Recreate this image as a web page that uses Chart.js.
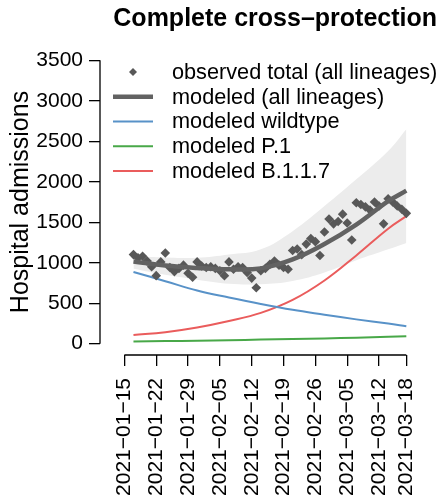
<!DOCTYPE html>
<html>
<head>
<meta charset="utf-8">
<title>Complete cross-protection</title>
<script src="https://cdn.jsdelivr.net/npm/chart.js@4.4.1/dist/chart.umd.min.js"></script>
<style>
  html, body { margin: 0; padding: 0; background: #fff; }
</style>
</head>
<body>
<canvas id="chart" width="444" height="502"></canvas>
<script>
// x is days since 2021-01-15
const tickDays = [0, 7, 14, 21, 28, 35, 42, 49, 56, 62];
const tickLabels = ["2021−01−15", "2021−01−22", "2021−01−29", "2021−02−05", "2021−02−12",
                    "2021−02−19", "2021−02−26", "2021−03−05", "2021−03−12", "2021−03−18"];
const yTicks = [0, 500, 1000, 1500, 2000, 2500, 3000, 3500];

// daily observed admissions, starting 2021-01-17
const observedStartDay = 2;
const observed = [
  1100, 1060, 1080, 1020, 950, 840, 1010, 1120, 940, 890,
  930, 970, 870, 820, 1010, 960, 940, 950, 930, 900,
  840, 1010, 920, 950, 940, 880, 810, 690, 900, 930,
  980, 1020, 970, 940, 920, 1150, 1170, 1100, 1230, 1300,
  1260, 1090, 1380, 1540, 1480, 1510, 1600, 1490, 1280, 1740,
  1720, 1690, 1650, 1750, 1700, 1480, 1790, 1750, 1700, 1660,
  1610
];

// model curves, read at roughly weekly points
const modelDays       = [2,    9,    16,   23,   30,   37,   44,   51,   58,   62];
const modeledTotal    = [1016, 965,  935,  918,  930,  1040, 1230, 1470, 1760, 1890];
const modeledWildtype = [886,  772,  656,  570,  490,  418,  358,  300,  248,  215];
const modeledP1       = [28,   32,   37,   43,   50,   57,   65,   74,   85,   93];
const modeledB117     = [106,  142,  200,  280,  380,  540,  780,  1090, 1420, 1575];
const bandUpper       = [1080, 1065, 1060, 1100, 1165, 1390, 1700, 2030, 2380, 2650];
const bandLower       = [925,  850,  790,  740,  735,  775,  880,  1030, 1165, 1245];

const toXY = (days, vals) => vals.map((v, i) => ({x: days[i], y: v}));

Chart.defaults.font.family = "'Liberation Sans', Arial, sans-serif";
Chart.defaults.color = "#000";

const modelLine = (label, vals, color, width, order) => ({
  label: label,
  data: toXY(modelDays, vals),
  borderColor: color,
  borderWidth: width,
  pointRadius: 0,
  tension: 0.4,
  fill: false,
  order: order
});

const datasets = [
  modelLine("modeled (all lineages)", modeledTotal, "rgb(98,98,98)", 4.5, 0),
  {
    label: "observed total (all lineages)",
    data: observed.map((v, i) => ({x: observedStartDay + i, y: v})),
    showLine: false,
    pointStyle: "rectRot",
    pointRadius: 4.8,
    pointBackgroundColor: "rgb(88,88,88)",
    pointBorderWidth: 0,
    order: 1
  },
  modelLine("modeled wildtype", modeledWildtype, "rgb(88,146,200)", 2, 2),
  modelLine("modeled P.1", modeledP1, "rgb(72,168,72)", 2, 3),
  modelLine("modeled B.1.1.7", modeledB117, "rgb(234,92,92)", 2, 4),
  {
    label: "band upper",
    data: toXY(modelDays, bandUpper),
    borderWidth: 0,
    pointRadius: 0,
    tension: 0.4,
    backgroundColor: "rgb(236,236,236)",
    fill: "+1",
    order: 5
  },
  {
    label: "band lower",
    data: toXY(modelDays, bandLower),
    borderWidth: 0,
    pointRadius: 0,
    tension: 0.4,
    fill: false,
    order: 6
  }
];

// R style axes: lines only run from first to last tick
const axisLines = {
  id: "axisLines",
  afterDraw(chart) {
    const {ctx, chartArea, scales: {x, y}} = chart;
    ctx.save();
    ctx.strokeStyle = "#000";
    ctx.lineWidth = 1.3;
    ctx.beginPath();
    ctx.moveTo(x.getPixelForValue(tickDays[0]), chartArea.bottom);
    ctx.lineTo(x.getPixelForValue(tickDays[tickDays.length - 1]), chartArea.bottom);
    ctx.moveTo(chartArea.left, y.getPixelForValue(yTicks[0]));
    ctx.lineTo(chartArea.left, y.getPixelForValue(yTicks[yTicks.length - 1]));
    ctx.stroke();
    ctx.restore();
  }
};

// legend inside the plot, top left, like R's legend("topleft")
const legendOrder = [1, 0, 2, 3, 4];
const insideLegend = {
  id: "insideLegend",
  afterDatasetsDraw(chart) {
    const {ctx, chartArea} = chart;
    const x0 = chartArea.left + 13;
    const symW = 40;
    ctx.save();
    ctx.font = "21.7px 'Liberation Sans', Arial, sans-serif";
    ctx.textBaseline = "middle";
    legendOrder.forEach((di, row) => {
      const ds = chart.data.datasets[di];
      const yc = chartArea.top + 23 + row * 24.75;
      if (ds.showLine === false) {
        const r = 4;
        const cx = x0 + symW / 2;
        ctx.fillStyle = ds.pointBackgroundColor;
        ctx.beginPath();
        ctx.moveTo(cx, yc - r);
        ctx.lineTo(cx + r, yc);
        ctx.lineTo(cx, yc + r);
        ctx.lineTo(cx - r, yc);
        ctx.closePath();
        ctx.fill();
      } else {
        ctx.strokeStyle = ds.borderColor;
        ctx.lineWidth = ds.borderWidth;
        ctx.beginPath();
        ctx.moveTo(x0, yc);
        ctx.lineTo(x0 + symW, yc);
        ctx.stroke();
      }
      ctx.fillStyle = "#000";
      ctx.fillText(ds.label, x0 + symW + 19, yc + 1);
    });
    ctx.restore();
  }
};

new Chart(document.getElementById("chart"), {
  type: "line",
  data: { datasets: datasets },
  plugins: [axisLines, insideLegend],
  options: {
    responsive: false,
    animation: false,
    events: [],
    layout: { padding: { right: 7 } },
    plugins: {
      legend: { display: false },
      tooltip: { enabled: false },
      title: {
        display: true,
        text: "Complete cross–protection",
        align: "end",
        color: "#000",
        font: { size: 25, weight: "bold" },
        padding: { top: 4, bottom: 15 }
      }
    },
    scales: {
      x: {
        type: "linear",
        min: -5.36,
        max: 66.86,
        bounds: "data",
        afterBuildTicks: s => { s.ticks = tickDays.map(v => ({value: v})); },
        afterFit: s => { s.height = 147; },
        border: { display: false },
        grid: { drawOnChartArea: false, drawTicks: true, tickLength: 11, color: "#000", lineWidth: 1.3 },
        ticks: {
          autoSkip: false,
          maxRotation: 90,
          minRotation: 90,
          padding: 12,
          color: "#000",
          font: { size: 21 },
          callback: (v, i) => tickLabels[i]
        }
      },
      y: {
        type: "linear",
        min: -140,
        max: 3640,
        bounds: "data",
        afterBuildTicks: s => { s.ticks = yTicks.map(v => ({value: v})); },
        afterFit: s => { s.width = 100; },
        border: { display: false },
        grid: { drawOnChartArea: false, drawTicks: true, tickLength: 11, color: "#000", lineWidth: 1.3 },
        ticks: { padding: 6, color: "#000", font: { size: 21 }, callback: v => String(v) },
        title: {
          display: true,
          text: "Hospital admissions",
          color: "#000",
          font: { size: 25 },
          padding: { top: 6, bottom: 0 }
        }
      }
    }
  }
});
</script>
</body>
</html>
